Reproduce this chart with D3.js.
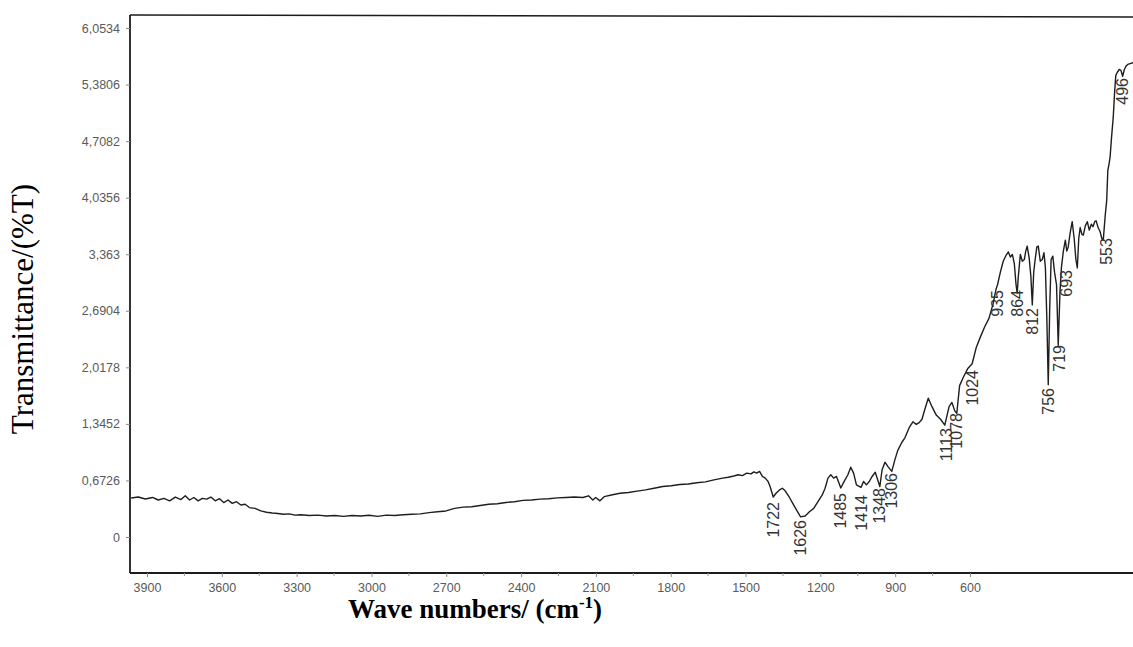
<!DOCTYPE html>
<html>
<head>
<meta charset="utf-8">
<script src="https://cdn.jsdelivr.net/npm/d3@7/dist/d3.min.js"></script>
<style>
	html, body { margin: 0; padding: 0; background: #fff; }
	svg { display: block; }
</style>
</head>
<body>
<div id="chart"></div>
<script>
/* global d3 */

// Axis labels as printed on the scan (comma decimals)
const yTickValues = [ 0, 0.6726, 1.3452, 2.0178, 2.6904, 3.363, 4.0356, 4.7082, 5.3806, 6.0534 ];
const yTickLabels = [ '0', '0,6726', '1,3452', '2,0178', '2,6904', '3,363', '4,0356', '4,7082', '5,3806', '6,0534' ];
const xTickValues = [ 3900, 3600, 3300, 3000, 2700, 2400, 2100, 1800, 1500, 1200, 900, 600 ];

// FTIR trace (cm-1, %T)
const wavenumbers = [
	3975, 3950, 3925, 3900, 3880, 3860, 3840, 3820, 3800, 3785, 3770, 3755, 3740, 3725, 3710, 3695,
	3680, 3665, 3650, 3635, 3620, 3605, 3590, 3575, 3560, 3540, 3520, 3500, 3480, 3460, 3440, 3420,
	3400, 3380, 3350, 3320, 3290, 3260, 3230, 3200, 3170, 3140, 3110, 3080, 3050, 3020, 2990, 2960,
	2930, 2900, 2870, 2840, 2810, 2780, 2750, 2720, 2690, 2660, 2630, 2600, 2570, 2540, 2510, 2480,
	2450, 2420, 2390, 2370, 2355, 2345, 2330, 2315, 2290, 2260, 2230, 2200, 2170, 2140, 2110, 2080,
	2050, 2020, 1990, 1960, 1930, 1900, 1880, 1860, 1845, 1830, 1815, 1800, 1790, 1780, 1770, 1760,
	1750, 1740, 1733, 1722, 1712, 1700, 1690, 1680, 1665, 1650, 1640, 1626, 1610, 1595, 1580, 1565,
	1550, 1540, 1530, 1520, 1510, 1500, 1485, 1475, 1460, 1450, 1440, 1430, 1414, 1405, 1395, 1385,
	1375, 1364, 1348, 1340, 1330, 1320, 1306, 1295, 1285, 1270, 1260, 1245, 1232, 1220, 1210, 1200,
	1190, 1178, 1165, 1150, 1135, 1120, 1105, 1095, 1085, 1078, 1068, 1055, 1040, 1024, 1010, 995,
	980, 965, 950, 940, 935, 925, 915, 905, 897, 890, 883, 876, 870, 866, 862, 855,
	848, 841, 836, 831, 824, 818, 813, 808, 803, 797, 792, 785, 778, 772, 767, 762,
	757, 752, 747, 741, 735, 728, 722, 716, 711, 704, 697, 692, 687, 680, 673, 666,
	660, 655, 650, 645, 639, 634, 627, 620, 613, 606, 600, 594, 589, 582, 575, 569,
	564, 560, 557, 552, 548, 543, 540, 535, 529, 524, 520, 514, 508, 502, 496, 490,
	484, 478, 470, 460, 445, 430,
];
const transmittance = [
	0.464, 0.476, 0.452, 0.47, 0.44, 0.46, 0.43, 0.475, 0.445, 0.49, 0.44, 0.47, 0.43, 0.46, 0.45, 0.475,
	0.43, 0.455, 0.41, 0.44, 0.40, 0.42, 0.38, 0.39, 0.35, 0.34, 0.31, 0.295, 0.285, 0.28, 0.27, 0.275,
	0.26, 0.265, 0.255, 0.26, 0.25, 0.255, 0.245, 0.255, 0.25, 0.258, 0.245, 0.26, 0.255, 0.265, 0.27, 0.275,
	0.29, 0.30, 0.31, 0.34, 0.355, 0.36, 0.375, 0.39, 0.395, 0.41, 0.42, 0.435, 0.44, 0.45, 0.455, 0.465,
	0.47, 0.475, 0.47, 0.49, 0.44, 0.47, 0.43, 0.48, 0.50, 0.52, 0.53, 0.545, 0.56, 0.58, 0.60, 0.61,
	0.625, 0.63, 0.645, 0.655, 0.68, 0.70, 0.71, 0.725, 0.74, 0.73, 0.76, 0.75, 0.775, 0.76, 0.78, 0.72,
	0.70, 0.66, 0.60, 0.476, 0.52, 0.56, 0.58, 0.55, 0.47, 0.38, 0.32, 0.24, 0.25, 0.30, 0.34, 0.42,
	0.50, 0.58, 0.70, 0.74, 0.70, 0.72, 0.583, 0.65, 0.74, 0.83, 0.76, 0.62, 0.59, 0.66, 0.62, 0.66,
	0.72, 0.77, 0.60, 0.80, 0.89, 0.84, 0.78, 0.92, 1.03, 1.13, 1.18, 1.30, 1.37, 1.34, 1.36, 1.40,
	1.52, 1.65, 1.55, 1.45, 1.40, 1.33, 1.55, 1.60, 1.50, 1.47, 1.80, 1.90, 2.00, 2.06, 2.25, 2.38,
	2.50, 2.60, 2.78, 2.95, 3.00, 3.15, 3.28, 3.35, 3.39, 3.33, 3.36, 3.25, 3.00, 2.90, 3.10, 3.36,
	3.28, 3.30, 3.40, 3.46, 3.32, 3.10, 2.76, 3.15, 3.30, 3.45, 3.46, 3.28, 3.30, 3.38, 3.20, 2.60,
	1.81, 2.70, 3.30, 3.34, 3.15, 3.00, 2.28, 2.90, 3.20, 3.40, 3.53, 3.40, 3.45, 3.62, 3.75, 3.55,
	3.30, 3.20, 3.55, 3.68, 3.60, 3.59, 3.70, 3.75, 3.65, 3.72, 3.69, 3.75, 3.76, 3.68, 3.63, 3.55,
	3.53, 3.70, 3.83, 4.00, 4.36, 4.45, 4.52, 4.75, 4.99, 5.30, 5.49, 5.53, 5.56, 5.55, 5.48, 5.56,
	5.60, 5.62, 5.63, 5.64, 5.66, 5.68,
];

// Peak annotations: wavenumber and the %T where the label starts
const peakWavenumbers = [ 1722, 1626, 1485, 1414, 1348, 1306, 1113, 1078, 1024, 935, 864, 812, 756, 719, 693, 553, 496 ];
const peakLabelLevels = [ 0.416, 0.202, 0.523, 0.499, 0.583, 0.761, 1.296, 1.474, 1.986, 2.937, 2.937, 2.723, 1.772, 2.283, 3.175, 3.555, 5.458 ];

class SpectrumChart {
	constructor( selector ) {
		this.selector = selector;
		this.width = 1133;
		this.height = 647;
		this.frame = { left: 130, top: 15, bottom: 573, right: 1133 };

		this.points = wavenumbers.map( ( wn, i ) => ( { wn, t: transmittance[ i ] } ) );
		this.peaks = peakWavenumbers.map( ( wn, i ) => ( { wn, t: peakLabelLevels[ i ] } ) );

		// trace scale and the (offset) scale the printed tick labels follow
		this.x = d3.scaleLinear().domain( [ 4000, 400 ] ).range( [ 124, 1150 ] );
		this.xTicks = d3.scaleLinear().domain( [ 3900, 600 ] ).range( [ 147, 970 ] );
		this.y = d3.scaleLinear().domain( [ 0, 6.0534 ] ).range( [ 537, 28 ] );

		this.init();
	}

	init() {
		this.createSVG();
		this.drawFrame();
		this.drawAxes();
		this.drawTrace();
		this.drawPeakLabels();
		this.drawTitles();
	}

	createSVG() {
		this.svg = d3.select( this.selector )
			.append( 'svg' )
			.attr( 'width', this.width )
			.attr( 'height', this.height )
			.style( 'background', '#fff' );
	}

	drawFrame() {
		const f = this.frame;
		const g = this.svg.append( 'g' )
			.attr( 'stroke', '#1c1c1c' )
			.attr( 'stroke-width', 1.8 );

		g.append( 'line' ).attr( 'x1', f.left ).attr( 'y1', f.top ).attr( 'x2', f.left ).attr( 'y2', f.bottom );
		g.append( 'line' ).attr( 'x1', f.left ).attr( 'y1', f.bottom ).attr( 'x2', f.right ).attr( 'y2', f.bottom );
		g.append( 'line' ).attr( 'x1', f.left ).attr( 'y1', f.top ).attr( 'x2', f.right ).attr( 'y2', f.top + 2 )
			.attr( 'stroke-width', 1.3 );
	}

	drawAxes() {
		const yAxis = d3.axisLeft( this.y )
			.tickValues( yTickValues )
			.tickFormat( ( d, i ) => yTickLabels[ i ] )
			.tickSize( 4 )
			.tickPadding( 6 );

		const yg = this.svg.append( 'g' )
			.attr( 'transform', `translate(${ this.frame.left },0)` )
			.call( yAxis );
		yg.select( '.domain' ).remove();
		yg.selectAll( '.tick line' ).attr( 'stroke', '#888' );
		yg.selectAll( '.tick text' )
			.attr( 'fill', '#5a5a5a' )
			.style( 'font-family', 'Arial, "Liberation Sans", sans-serif' )
			.style( 'font-size', '12.5px' );

		const xAxis = d3.axisBottom( this.xTicks )
			.tickValues( xTickValues )
			.tickFormat( d3.format( 'd' ) )
			.tickSize( 4 )
			.tickPadding( 6 );

		const xg = this.svg.append( 'g' )
			.attr( 'transform', `translate(0,${ this.frame.bottom })` )
			.call( xAxis );
		xg.select( '.domain' ).remove();
		xg.selectAll( '.tick line' ).attr( 'stroke', '#888' );
		xg.selectAll( '.tick text' )
			.attr( 'fill', '#5a5a5a' )
			.style( 'font-family', 'Arial, "Liberation Sans", sans-serif' )
			.style( 'font-size', '12.5px' );

		// minor ticks halfway between the labelled ones
		xg.selectAll( '.minor' )
			.data( xTickValues.slice( 0, -1 ).map( ( v ) => v - 150 ) )
			.enter()
			.append( 'line' )
			.attr( 'class', 'minor' )
			.attr( 'x1', ( d ) => this.xTicks( d ) )
			.attr( 'x2', ( d ) => this.xTicks( d ) )
			.attr( 'y1', 0 )
			.attr( 'y2', 3 )
			.attr( 'stroke', '#999' );
	}

	drawTrace() {
		const line = d3.line()
			.x( ( d ) => this.x( d.wn ) )
			.y( ( d ) => this.y( d.t ) );

		this.svg.append( 'defs' )
			.append( 'clipPath' )
			.attr( 'id', 'plot-clip' )
			.append( 'rect' )
			.attr( 'x', this.frame.left )
			.attr( 'y', this.frame.top )
			.attr( 'width', this.frame.right - this.frame.left )
			.attr( 'height', this.frame.bottom - this.frame.top );

		this.svg.append( 'path' )
			.datum( this.points )
			.attr( 'clip-path', 'url(#plot-clip)' )
			.attr( 'd', line )
			.attr( 'fill', 'none' )
			.attr( 'stroke', '#1e1e1e' )
			.attr( 'stroke-width', 1.4 )
			.attr( 'stroke-linejoin', 'round' );
	}

	drawPeakLabels() {
		this.svg.append( 'g' )
			.selectAll( 'text' )
			.data( this.peaks )
			.enter()
			.append( 'text' )
			.attr( 'transform', ( d ) => `translate(${ this.x( d.wn ) },${ this.y( d.t ) }) rotate(-90)` )
			.attr( 'text-anchor', 'end' )
			.attr( 'dy', '0.35em' )
			.attr( 'fill', '#333' )
			.style( 'font-family', 'Arial, "Liberation Sans", sans-serif' )
			.style( 'font-size', '16px' )
			.text( ( d ) => d.wn );
	}

	drawTitles() {
		const xTitle = this.svg.append( 'text' )
			.attr( 'x', 475 )
			.attr( 'y', 618 )
			.attr( 'text-anchor', 'middle' )
			.attr( 'fill', '#000' )
			.style( 'font-family', '"Times New Roman", "Liberation Serif", serif' )
			.style( 'font-weight', '700' )
			.style( 'font-size', '27px' );
		xTitle.append( 'tspan' ).text( 'Wave numbers/ (cm' );
		xTitle.append( 'tspan' )
			.attr( 'dy', -10 )
			.style( 'font-size', '17px' )
			.text( '-1' );
		xTitle.append( 'tspan' )
			.attr( 'dy', 10 )
			.text( ')' );

		this.svg.append( 'text' )
			.attr( 'transform', 'translate(33,309) rotate(-90)' )
			.attr( 'text-anchor', 'middle' )
			.attr( 'fill', '#000' )
			.style( 'font-family', '"Times New Roman", "Liberation Serif", serif' )
			.style( 'font-size', '31px' )
			.text( 'Transmittance/(%T)' );
	}
}

new SpectrumChart( '#chart' );
</script>
</body>
</html>
